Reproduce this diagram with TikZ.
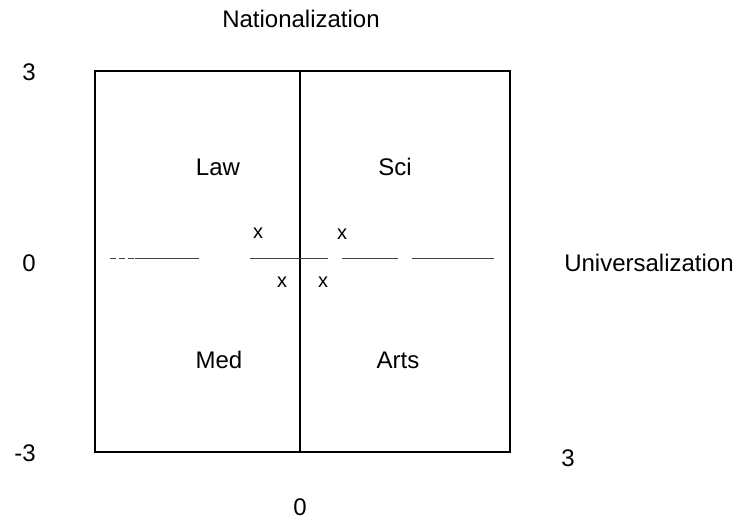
\documentclass[tikz,border=0pt]{standalone}
\usepackage{fontspec}
\setmainfont{Liberation Sans}
\begin{document}
\begin{tikzpicture}[x=1pt,y=-1pt,
  lbl/.style={font=\fontsize{24}{28}\selectfont, inner sep=0pt},
  mk/.style={font=\fontsize{20}{24}\selectfont, inner sep=0pt},
  frame/.style={draw=black, line width=1.7pt},
  divider/.style={draw=black, line width=1.3pt},
  axisline/.style={draw=black!75, line width=1pt}]
\useasboundingbox (0,0) rectangle (740,520);
% frame
\coordinate (tl) at (95,71);
\coordinate (br) at (510,452);
\draw[frame] (tl) rectangle (br);
\coordinate (vt) at (300,71);
\coordinate (vb) at (300,452);
\draw[divider] (vt) -- (vb);
% dashed horizontal axis
\coordinate (h0) at (110,258); \coordinate (h1) at (135,258); \coordinate (h2) at (199,258);
\coordinate (h3) at (250,258); \coordinate (h4) at (328,258);
\coordinate (h5) at (342,258); \coordinate (h6) at (398,258);
\coordinate (h7) at (412,258); \coordinate (h8) at (494,258);
\draw[axisline, dash pattern=on 6pt off 3pt] (h0) -- (h1);
\draw[axisline] (h1) -- (h2) (h3) -- (h4) (h5) -- (h6) (h7) -- (h8);
% quadrant labels
\node[lbl] (law) at (218,167) {Law};
\node[lbl] (sci) at (395,167) {Sci};
\node[lbl] (med) at (219,360) {Med};
\node[lbl] (arts) at (398,360) {Arts};
% markers
\node[mk] (x1) at (258,233) {x};
\node[mk] (x2) at (342,234) {x};
\node[mk] (x3) at (282,282) {x};
\node[mk] (x4) at (323,282) {x};
% axis titles
\node[lbl] (nat) at (301,19) {Nationalization};
\node[lbl] (uni) at (649,263) {Universalization};
% ticks
\node[lbl] (y3) at (29,72) {3};
\node[lbl] (y0) at (29,263) {0};
\node[lbl] (ym3) at (25,453) {-3};
\node[lbl] (x3t) at (568,458) {3};
\node[lbl] (x0t) at (300,507) {0};
\end{tikzpicture}
\end{document}
